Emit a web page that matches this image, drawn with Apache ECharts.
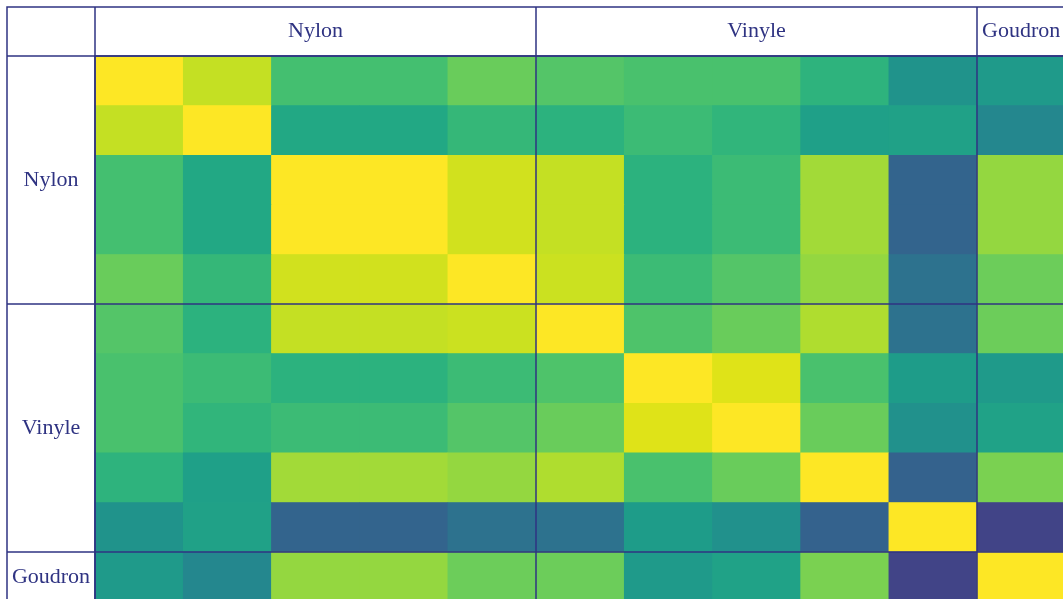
<!DOCTYPE html>
<html><head><meta charset="utf-8">
<script src="https://cdn.jsdelivr.net/npm/echarts@6/dist/echarts.min.js"></script>
<style>html,body{margin:0;padding:0;background:#fff}#c{width:1063px;height:599px}</style>
</head><body><div id="c"></div>
<script>
// Groups and their sizes (number of samples per group)
const groups = ['Nylon', 'Vinyle', 'Goudron'];
const groupSizes = [5, 5, 1];

// Matrix rows (values on 0..1 colour scale), one per sample
const nylon1   = [1.00, 0.91, 0.70, 0.70, 0.77, 0.73, 0.71, 0.71, 0.645, 0.51, 0.54];
const nylon2   = [0.91, 1.00, 0.60, 0.60, 0.665, 0.64, 0.68, 0.655, 0.565, 0.57, 0.46];
const nylon3   = [0.70, 0.60, 1.00, 1.00, 0.93, 0.91, 0.64, 0.68, 0.86, 0.32, 0.84];
const nylon4   = [0.70, 0.60, 1.00, 1.00, 0.93, 0.91, 0.64, 0.68, 0.86, 0.32, 0.84];
const nylon5   = [0.77, 0.665, 0.93, 0.93, 1.00, 0.92, 0.68, 0.73, 0.84, 0.375, 0.775];
const vinyle1  = [0.73, 0.64, 0.91, 0.91, 0.92, 1.00, 0.72, 0.77, 0.88, 0.375, 0.775];
const vinyle2  = [0.71, 0.68, 0.64, 0.64, 0.68, 0.72, 1.00, 0.95, 0.71, 0.55, 0.54];
const vinyle3  = [0.71, 0.655, 0.68, 0.68, 0.73, 0.77, 0.95, 1.00, 0.77, 0.50, 0.575];
const vinyle4  = [0.645, 0.565, 0.86, 0.86, 0.84, 0.88, 0.71, 0.77, 1.00, 0.31, 0.80];
const vinyle5  = [0.51, 0.57, 0.32, 0.32, 0.375, 0.375, 0.55, 0.50, 0.31, 1.00, 0.20];
const goudron1 = [0.54, 0.46, 0.84, 0.84, 0.775, 0.775, 0.54, 0.575, 0.80, 0.20, 1.00];

const rows = [nylon1, nylon2, nylon3, nylon4, nylon5, vinyle1, vinyle2, vinyle3, vinyle4, vinyle5, goudron1];

const viridis = ['#440154','#471365','#482475','#463480','#414487','#3b528b','#355f8d','#2f6c8e','#2a788e','#25848e','#21918c','#1e9c89','#22a884','#2fb47c','#44bf70','#5ec962','#7ad151','#9bd93c','#bddf26','#dfe318','#fde725'];

const categories = [];
const groupStarts = [];
const groupCenters = [];
groups.forEach((g, gi) => {
  groupStarts.push(categories.length);
  groupCenters.push(categories.length + Math.floor(groupSizes[gi] / 2));
  for (let k = 1; k <= groupSizes[gi]; k++) categories.push(g + ' ' + k);
});
const data = [];
rows.forEach((row, yi) => row.forEach((v, xi) => data.push([xi, yi, v])));

const isBoundary = (i) => groupStarts.includes(i);
const isCenter = (i) => groupCenters.includes(i);
const groupName = (v) => String(v).replace(/ \d+$/, '');

const NAVY = '#2f3382';
const CELL_W = 88.2, CELL_H = 49.6;
const GRID_LEFT = 95, GRID_TOP = 56;
const labelFont = { fontFamily: 'Liberation Serif', fontSize: 22, color: NAVY };

// heatmap layer (drawn twice, stacked, so anti-aliased seams between equal cells vanish)
const heatLayer = (z) => ({
  type: 'heatmap', data: data, z: z,
  itemStyle: { borderWidth: 0 },
  emphasis: { disabled: true },
  label: { show: false },
  silent: true
});

const chart = echarts.init(document.getElementById('c'), null, { renderer: 'canvas' });
chart.setOption({
  backgroundColor: '#ffffff',
  animation: false,
  grid: { left: GRID_LEFT, top: GRID_TOP, width: CELL_W * categories.length, height: CELL_H * categories.length, containLabel: false, outerBoundsMode: 'none' },
  xAxis: {
    type: 'category', position: 'top', data: categories, z: 10,
    axisLine: { show: true, lineStyle: { color: NAVY, width: 1.5 } },
    axisTick: { show: true, length: 49, interval: isBoundary, lineStyle: { color: NAVY, width: 1.5 } },
    axisLabel: Object.assign({ interval: isCenter, margin: 25, verticalAlign: 'middle', align: 'center', formatter: groupName }, labelFont),
    splitLine: { show: true, interval: isBoundary, lineStyle: { color: NAVY, width: 1.5 } },
    splitArea: { show: false }
  },
  yAxis: {
    type: 'category', inverse: true, data: categories, z: 10,
    axisLine: { show: true, lineStyle: { color: NAVY, width: 1.5 } },
    axisTick: { show: true, length: 88, interval: isBoundary, lineStyle: { color: NAVY, width: 1.5 } },
    axisLabel: Object.assign({ interval: isCenter, margin: 44, verticalAlign: 'middle', align: 'center', formatter: groupName }, labelFont),
    splitLine: { show: true, interval: isBoundary, lineStyle: { color: NAVY, width: 1.5 } },
    splitArea: { show: false }
  },
  visualMap: { show: false, type: 'continuous', min: 0, max: 1, dimension: 2, seriesIndex: [0, 1], inRange: { color: viridis } },
  graphic: [{
    type: 'rect', z: 20, silent: true,
    shape: { x: GRID_LEFT - 88, y: GRID_TOP - 49, width: 2000, height: 2000 },
    style: { fill: 'none', stroke: NAVY, lineWidth: 1.5 }
  }],
  series: [heatLayer(2), heatLayer(3)]
});
</script></body></html>
